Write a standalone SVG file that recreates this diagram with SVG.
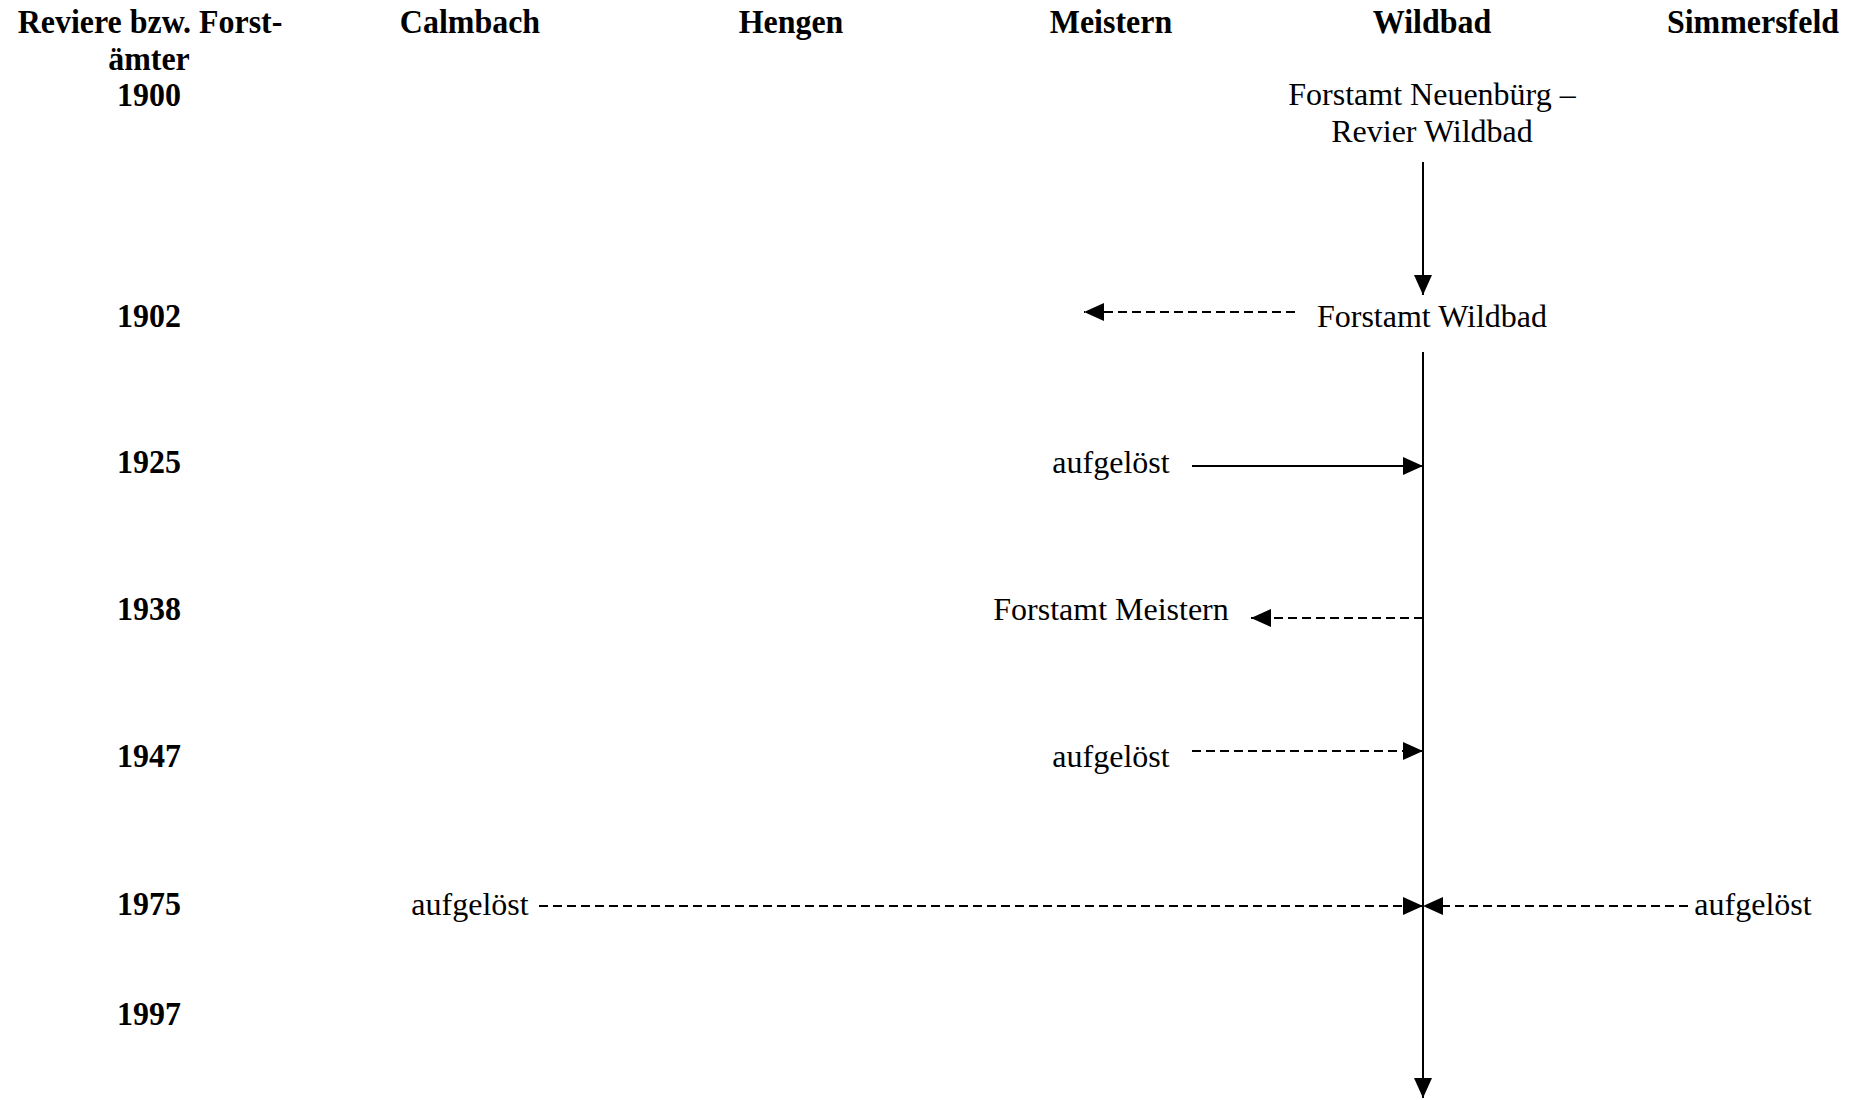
<svg xmlns="http://www.w3.org/2000/svg" width="1856" height="1100" viewBox="0 0 1856 1100">
<style>
.h{font-family:"Liberation Serif","Times New Roman",serif;font-weight:bold;font-size:34px;fill:#000;text-anchor:middle}
.t{font-family:"Liberation Serif","Times New Roman",serif;font-size:32px;fill:#000;text-anchor:middle}
.ln{stroke:#000;stroke-width:2;fill:none}
.d{stroke-dasharray:9 5}
</style>
<defs>
<marker id="ah" markerUnits="userSpaceOnUse" markerWidth="20" markerHeight="18" refX="20" refY="9" orient="auto" viewBox="0 0 20 18">
<path d="M0,0 L20,9 L0,18 z" fill="#000"/>
</marker>
</defs>
<rect width="1856" height="1100" fill="#fff"/>
<g id="headers" transform="scale(0.94 1)">
<text class="h" x="159.6" y="33">Reviere bzw. Forst-</text>
<text class="h" x="158.5" y="70">ämter</text>
<text class="h" x="158.5" y="106">1900</text>
<text class="h" x="500" y="33">Calmbach</text>
<text class="h" x="841.5" y="33">Hengen</text>
<text class="h" x="1181.9" y="33">Meistern</text>
<text class="h" x="1523.4" y="33">Wildbad</text>
<text class="h" x="1864.9" y="33">Simmersfeld</text>
</g>
<g id="years" transform="scale(0.94 1)">
<text class="h" x="158.5" y="327">1902</text>
<text class="h" x="158.5" y="473">1925</text>
<text class="h" x="158.5" y="620">1938</text>
<text class="h" x="158.5" y="767">1947</text>
<text class="h" x="158.5" y="915">1975</text>
<text class="h" x="158.5" y="1025">1997</text>
</g>
<g id="n-neuenbuerg"><text class="t" x="1432" y="105">Forstamt Neuenbürg –</text><text class="t" x="1432" y="142">Revier Wildbad</text></g>
<g id="n-wildbad"><text class="t" x="1432" y="327">Forstamt Wildbad</text></g>
<g id="n-aufg1925"><text class="t" x="1111" y="473">aufgelöst</text></g>
<g id="n-meistern"><text class="t" x="1111" y="620">Forstamt Meistern</text></g>
<g id="n-aufg1947"><text class="t" x="1111" y="767">aufgelöst</text></g>
<g id="n-calmbach1975"><text class="t" x="470" y="915">aufgelöst</text></g>
<g id="n-simmersfeld1975"><text class="t" x="1753" y="915">aufgelöst</text></g>
<g id="connectors">
<line class="ln" x1="1423" y1="162" x2="1423" y2="295" marker-end="url(#ah)"/>
<line class="ln" x1="1423" y1="352" x2="1423" y2="1098" marker-end="url(#ah)"/>
<line class="ln d" x1="1295" y1="312" x2="1084" y2="312" marker-end="url(#ah)"/>
<line class="ln" x1="1192" y1="466" x2="1423" y2="466" marker-end="url(#ah)"/>
<line class="ln d" x1="1423" y1="618" x2="1251" y2="618" marker-end="url(#ah)"/>
<line class="ln d" x1="1192" y1="751" x2="1423" y2="751" marker-end="url(#ah)"/>
<line class="ln d" x1="539" y1="906" x2="1423" y2="906" marker-end="url(#ah)"/>
<line class="ln d" x1="1688" y1="906" x2="1423" y2="906" marker-end="url(#ah)"/>
</g>
</svg>
